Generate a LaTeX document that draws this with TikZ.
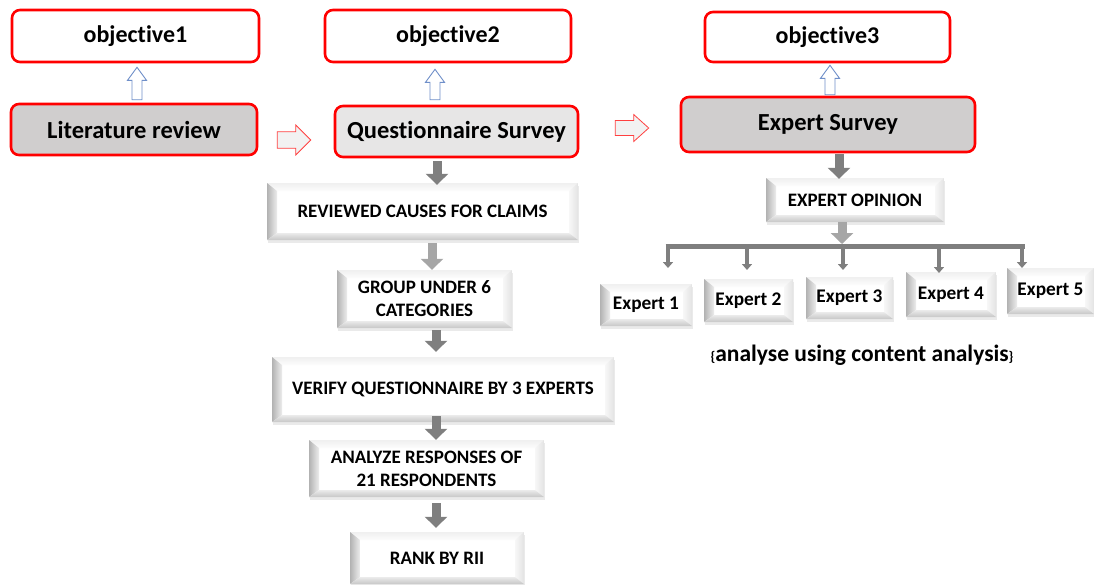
\documentclass[tikz,border=0pt]{standalone}
\usepackage{fontspec}
\setmainfont{Carlito}[Ligatures=NoCommon]
\usetikzlibrary{calc,arrows.meta,shadows}

\definecolor{boxred}{HTML}{FF0000}
\definecolor{darkfill}{HTML}{D0CECE}
\definecolor{lightfill}{HTML}{E7E6E6}
\definecolor{arrowdark}{HTML}{7F7F7F}
\definecolor{arrowlight}{HTML}{A6A6A6}
\definecolor{blueedge}{HTML}{6F8FC9}
\definecolor{rededge}{HTML}{FF4040}
\definecolor{hollowfill}{HTML}{F2F2F2}

% hollow block arrow pointing up: #1 tail point, #2 tip point
\newcommand\hollowup[2]{%
  \draw[blueedge, fill=white, line width=0.9pt] let \p1=#1, \p2=#2 in
    (\x1-5pt,\y1) -- (\x1-5pt,\y2-13pt) -- (\x1-9.5pt,\y2-13pt) -- (\x1,\y2)
    -- (\x1+9.5pt,\y2-13pt) -- (\x1+5pt,\y2-13pt) -- (\x1+5pt,\y1) -- cycle;}
% hollow block arrow pointing right: #1 tail point, #2 tip point, #3 half head height
\newcommand\hollowright[3]{%
  \draw[rededge, fill=hollowfill, line width=0.8pt] let \p1=#1, \p2=#2 in
    (\x1,\y1+0.55*#3) -- (\x2-15pt,\y1+0.55*#3) -- (\x2-15pt,\y1+#3) -- (\x2,\y1)
    -- (\x2-15pt,\y1-#3) -- (\x2-15pt,\y1-0.55*#3) -- (\x1,\y1-0.55*#3) -- cycle;}

\begin{document}
\begin{tikzpicture}[x=1pt,y=-1pt,
  objbox/.style={draw=boxred, line width=2.6pt, rounded corners=8pt, fill=white,
    font=\bfseries\fontsize{24}{28}\selectfont},
  stagebox/.style={objbox, font=\bfseries\fontsize{24.5}{29}\selectfont},
  bevel/.style={fill=white, inner sep=2pt, align=center,
    font=\bfseries\fontsize{19}{23}\selectfont,
    drop shadow={shadow xshift=1pt, shadow yshift=-2.5pt, opacity=0.18, fill=black!45},
    path picture={
      \coordinate (bSW) at (path picture bounding box.south west);
      \coordinate (bNW) at (path picture bounding box.north west);
      \coordinate (bNE) at (path picture bounding box.north east);
      \coordinate (bSE) at (path picture bounding box.south east);
      \shade[top color=black!6, bottom color=black!1]
        (bNW) -- (bNE) -- ([shift={(-9pt,-8pt)}]bNE) -- ([shift={(10pt,-8pt)}]bNW) -- cycle;
      \shade[left color=black!30, right color=black!7]
        (bSW) -- (bNW) -- ([shift={(10pt,-8pt)}]bNW) -- ([shift={(10pt,7pt)}]bSW) -- cycle;
      \shade[right color=black!11, left color=black!3]
        (bSE) -- (bNE) -- ([shift={(-9pt,-8pt)}]bNE) -- ([shift={(-9pt,7pt)}]bSE) -- cycle;
      \shade[bottom color=black!22, top color=black!8]
        (bSW) -- (bSE) -- ([shift={(-9pt,7pt)}]bSE) -- ([shift={(10pt,7pt)}]bSW) -- cycle;
    }},
  expbox/.style={bevel, font=\bfseries\fontsize{19.3}{23}\selectfont},
  flow/.style={line width=9pt, arrowdark, -{Triangle[width=22pt,length=11pt]}},
  flowlight/.style={flow, arrowlight},
  drop/.style={line width=4pt, arrowdark, -{Triangle[width=10pt,length=6pt]}},
]
\useasboundingbox (0,0) rectangle (1094,584);

% objectives
\node[objbox, minimum width=247pt, minimum height=52pt] (obj1) at (135.5,36) {objective1};
\node[objbox, minimum width=246pt, minimum height=52pt] (obj2) at (448,36) {objective2};
\node[objbox, minimum width=245pt, minimum height=50pt] (obj3) at (827.5,37) {objective3};

% research stages
\node[stagebox, fill=darkfill, minimum width=246pt, minimum height=51pt] (lit) at (134,129.5) {Literature review};
\node[stagebox, fill=lightfill, minimum width=243pt, minimum height=51pt] (quest) at (456.5,131.5) {Questionnaire Survey};
\node[stagebox, fill=darkfill, minimum width=294pt, minimum height=55pt] (expsurv) at (828,124.5) {Expert Survey};

% stage to objective arrows
\hollowup{($(lit.north)+(3,-3)$)}{($(obj1.south)+(3,4)$)}
\hollowup{($(quest.north)+(-21.5,-5)$)}{($(obj2.south)+(-13,6)$)}
\hollowup{($(expsurv.north)+(2,-1)$)}{($(obj3.south)+(2,2)$)}

% stage to stage arrows
\hollowright{($(lit.east)+(19,10.5)$)}{($(quest.west)+(-23,10.5)$)}{15pt}
\hollowright{($(quest.east)+(36,-3.5)$)}{($(expsurv.west)+(-31,-3.5)$)}{13.5pt}

% questionnaire survey steps
\node[bevel, minimum width=311pt, minimum height=57pt] (rev) at (422.5,211.5) {REVIEWED CAUSES FOR CLAIMS};
\node[bevel, minimum width=175pt, minimum height=58pt] (grp) at (424.5,299) {GROUP UNDER 6\\CATEGORIES};
\node[bevel, minimum width=342pt, minimum height=65pt] (ver) at (443,389.5) {VERIFY QUESTIONNAIRE BY 3 EXPERTS};
\node[bevel, minimum width=235pt, minimum height=57pt] (ana) at (426.5,468.5) {ANALYZE RESPONSES OF\\21 RESPONDENTS};
\node[bevel, minimum width=174pt, minimum height=52pt] (rank) at (437,558) {RANK BY RII};

\coordinate (c1) at (437,0);
\coordinate (c2) at (432,0);
\coordinate (c3) at (436,0);
\draw[flow] ([yshift=-3pt]quest.south -| c1) -- ([yshift=-2pt]rev.north -| c1);
\draw[flowlight] ([yshift=-3pt]rev.south -| c2) -- (grp.north -| c2);
\draw[flow] ([yshift=-2pt]grp.south -| c3) -- ([yshift=5pt]ver.north -| c3);
\draw[flow] ([yshift=6pt]ver.south -| c3) -- (ana.north -| c3);
\draw[flow] ([yshift=-6pt]ana.south -| c3) -- ([yshift=4pt]rank.north -| c3);

% expert survey steps
\node[bevel, minimum width=178pt, minimum height=44pt] (expop) at (855,200) {EXPERT OPINION};
\node[expbox, minimum width=92pt, minimum height=42pt] (e1) at (646,305) {Expert 1};
\node[expbox, minimum width=89pt, minimum height=43pt] (e2) at (748.5,300.5) {Expert 2};
\node[expbox, minimum width=87pt, minimum height=42pt] (e3) at (849.5,298) {Expert 3};
\node[expbox, minimum width=90pt, minimum height=45pt] (e4) at (951,294.5) {Expert 4};
\node[expbox, minimum width=87pt, minimum height=46pt] (e5) at (1050.5,291) {Expert 5};

\coordinate (c4) at (839,0);
\coordinate (c5) at (842,0);
\draw[flow] ([yshift=-1pt]expsurv.south -| c4) -- ([yshift=-1pt]expop.north -| c4);

% distribution bar
\coordinate (barL) at (665.5,246);
\coordinate (barR) at (1024.5,246);
\draw[flowlight] (expop.south -| c5) -- ([yshift=2pt]barL -| c5);
\draw[line width=5pt, arrowdark] (barL) -- (barR);
\coordinate (d1) at (668,246);
\coordinate (d2) at (747,246);
\coordinate (d3) at (843,246);
\coordinate (d4) at (939,246);
\coordinate (d5) at (1022,246);
\coordinate (t1) at (668,268);
\coordinate (t2) at (747,270);
\coordinate (t3) at (843,270);
\coordinate (t4) at (939,273);
\coordinate (t5) at (1022,268);
\foreach \i in {1,...,5} \draw[drop] (d\i) -- (t\i);

\node[font=\bfseries\fontsize{23.5}{28}\selectfont] (note) at (862,355)
  {{\fontsize{14}{16}\selectfont\{}analyse using content analysis{\fontsize{14}{16}\selectfont\}}};
\end{tikzpicture}
\end{document}
